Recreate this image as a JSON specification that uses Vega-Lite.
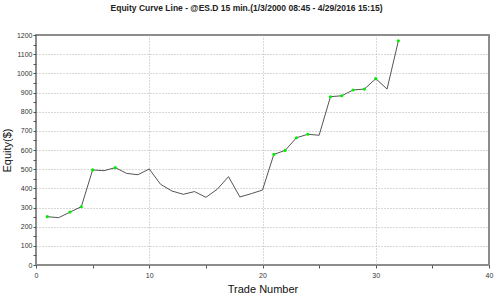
{
  "$schema": "https://vega.github.io/schema/vega-lite/v6.json",
  "width": 453,
  "height": 230,
  "autosize": "none",
  "padding": {"left": 36, "top": 35, "right": 11, "bottom": 29},
  "background": "white",
  "title": {
    "text": "Equity Curve Line - @ES.D 15 min.(1/3/2000 08:45 - 4/29/2016 15:15)",
    "font": "Liberation Sans",
    "fontSize": 8.5,
    "fontWeight": "bold",
    "color": "#222222",
    "anchor": "middle",
    "frame": "group",
    "dx": -16,
    "offset": 19
  },
  "config": {
    "view": {"stroke": "#8c8c8c", "strokeWidth": 2},
    "axis": {
      "labelFont": "Liberation Sans",
      "labelFontSize": 7,
      "labelColor": "#333333",
      "titleFont": "Liberation Sans",
      "titleFontWeight": "normal",
      "titleColor": "#111111",
      "domain": false,
      "tickColor": "#555555",
      "tickSize": 3,
      "gridColor": "#b0b0b0",
      "gridDash": [1, 2],
      "gridWidth": 1
    }
  },
  "data": {
    "values": [
      {"trade": 1, "equity": 252, "high": true},
      {"trade": 2, "equity": 247, "high": false},
      {"trade": 3, "equity": 276, "high": true},
      {"trade": 4, "equity": 304, "high": true},
      {"trade": 5, "equity": 496, "high": true},
      {"trade": 6, "equity": 492, "high": false},
      {"trade": 7, "equity": 508, "high": true},
      {"trade": 8, "equity": 478, "high": false},
      {"trade": 9, "equity": 471, "high": false},
      {"trade": 10, "equity": 501, "high": false},
      {"trade": 11, "equity": 421, "high": false},
      {"trade": 12, "equity": 386, "high": false},
      {"trade": 13, "equity": 369, "high": false},
      {"trade": 14, "equity": 383, "high": false},
      {"trade": 15, "equity": 353, "high": false},
      {"trade": 16, "equity": 395, "high": false},
      {"trade": 17, "equity": 461, "high": false},
      {"trade": 18, "equity": 355, "high": false},
      {"trade": 19, "equity": 372, "high": false},
      {"trade": 20, "equity": 391, "high": false},
      {"trade": 21, "equity": 577, "high": true},
      {"trade": 22, "equity": 598, "high": true},
      {"trade": 23, "equity": 664, "high": true},
      {"trade": 24, "equity": 682, "high": true},
      {"trade": 25, "equity": 677, "high": false},
      {"trade": 26, "equity": 878, "high": true},
      {"trade": 27, "equity": 883, "high": true},
      {"trade": 28, "equity": 913, "high": true},
      {"trade": 29, "equity": 918, "high": true},
      {"trade": 30, "equity": 972, "high": true},
      {"trade": 31, "equity": 918, "high": false},
      {"trade": 32, "equity": 1170, "high": true}
    ]
  },
  "encoding": {
    "x": {
      "field": "trade",
      "type": "quantitative",
      "scale": {"domain": [0, 40], "nice": false, "zero": false},
      "axis": {
        "title": "Trade Number",
        "titleFontSize": 11,
        "titlePadding": 5,
        "values": [0, 5, 10, 15, 20, 25, 30, 35, 40],
        "labelExpr": "datum.value % 10 === 0 ? datum.label : ''",
        "gridOpacity": {"condition": {"test": "datum.value % 10 === 0 && datum.value > 0 && datum.value < 40", "value": 1}, "value": 0},
        "labelPadding": 3,
        "labelFlush": false
      }
    },
    "y": {
      "field": "equity",
      "type": "quantitative",
      "scale": {"domain": [0, 1200], "nice": false},
      "axis": {
        "title": "Equity($)",
        "titleFontSize": 11,
        "titlePadding": 4,
        "values": [0, 50, 100, 150, 200, 250, 300, 350, 400, 450, 500, 550, 600, 650, 700, 750, 800, 850, 900, 950, 1000, 1050, 1100, 1150, 1200],
        "labelExpr": "datum.value % 100 === 0 ? datum.label : ''",
        "format": "d",
        "gridOpacity": {"condition": {"test": "datum.value % 100 === 0 && datum.value > 0 && datum.value < 1200", "value": 1}, "value": 0},
        "labelPadding": 1,
        "labelFlush": false
      }
    }
  },
  "layer": [
    {
      "mark": {"type": "line", "color": "#555555", "strokeWidth": 1}
    },
    {
      "transform": [{"filter": "datum.high"}],
      "mark": {"type": "point", "filled": true, "color": "#00ee00", "size": 10, "opacity": 1}
    }
  ]
}
